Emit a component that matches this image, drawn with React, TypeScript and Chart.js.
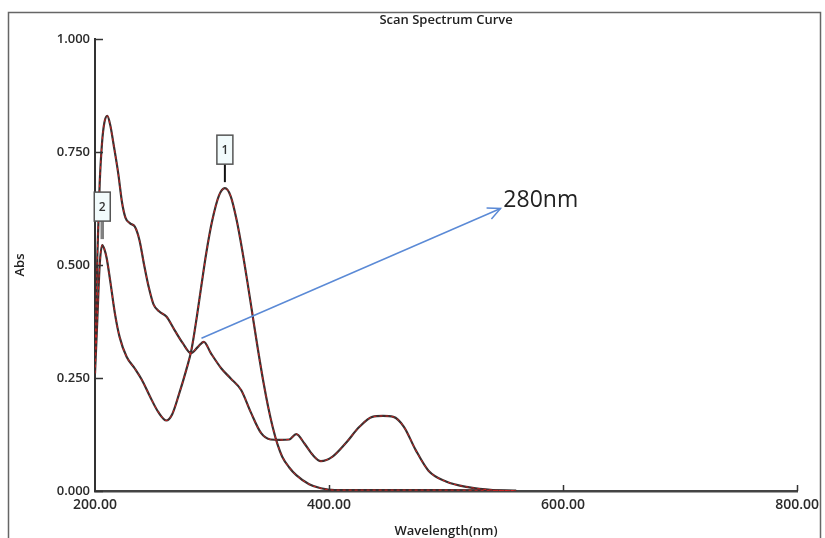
import React, { useEffect, useRef } from "react";
import { Chart, registerables } from "chart.js";

Chart.register(...registerables);

// Curve A (black / red dashed) – broad spectrum with 210 nm max and 450 nm band
const waveA = [200, 202, 204, 206, 208, 210.5, 213, 216, 220, 223, 226, 230, 234, 238, 242, 246, 250, 255, 261, 268, 275, 282, 288, 293, 299, 308, 316, 325, 333, 342, 350, 358, 366, 372, 379, 386, 393, 403, 414, 426, 437, 446, 455, 464, 474, 485, 500, 520, 540, 560];
const absA = [0.3, 0.52, 0.68, 0.77, 0.815, 0.83, 0.81, 0.765, 0.7, 0.64, 0.605, 0.592, 0.585, 0.555, 0.5, 0.45, 0.413, 0.397, 0.386, 0.356, 0.327, 0.305, 0.319, 0.33, 0.305, 0.271, 0.249, 0.223, 0.175, 0.128, 0.114, 0.113, 0.114, 0.126, 0.105, 0.08, 0.066, 0.076, 0.105, 0.142, 0.164, 0.166, 0.164, 0.142, 0.091, 0.045, 0.021, 0.008, 0.002, 0.0];

// Curve B (marker 1 / marker 2)
const waveB = [200, 202, 204, 206.2, 208, 210, 213, 217, 221, 227, 234, 240, 247, 254, 261, 266, 272, 278, 282.4, 287, 291, 295, 300, 306, 311, 316, 321, 326, 331, 334, 339, 344, 348, 352, 356, 360, 366, 372, 383, 393, 405, 450, 500, 560];
const absB = [0.26, 0.38, 0.5, 0.544, 0.535, 0.515, 0.465, 0.393, 0.341, 0.297, 0.271, 0.246, 0.209, 0.175, 0.156, 0.17, 0.216, 0.268, 0.312, 0.385, 0.456, 0.525, 0.596, 0.654, 0.67, 0.652, 0.6, 0.53, 0.45, 0.4, 0.317, 0.24, 0.186, 0.14, 0.103, 0.076, 0.052, 0.035, 0.015, 0.006, 0.002, 0.002, 0.002, 0.001];

const xTicks = [200, 400, 600, 800];
const yTicks = [0, 0.25, 0.5, 0.75, 1.0];

// peak markers
const peakLabels = ["1", "2"];
const peakWaves = [311, 206.2];
const peakAbs = [0.67, 0.544];

// arrow annotation
const arrowFrom = [291, 0.338];
const arrowTo = [546.6, 0.625];
const noteText = "280nm";
const notePos = [549, 0.645];

const FONT = "'Open Sans', 'Noto Sans', sans-serif";

const overlayPlugin = {
  id: "overlayPlugin",
  beforeDraw(chart: any) {
    const { ctx } = chart;
    ctx.save();
    ctx.fillStyle = "#ffffff";
    ctx.fillRect(0, 0, chart.width, chart.height);
    ctx.strokeStyle = "#666";
    ctx.lineWidth = 1.5;
    ctx.strokeRect(8.5, 12.5, 812, 540);
    ctx.restore();
  },
  afterDraw(chart: any) {
    const { ctx, chartArea } = chart;
    const x = chart.scales.x;
    const y = chart.scales.y;
    ctx.save();
    // inward tick marks
    ctx.strokeStyle = "#333";
    ctx.lineWidth = 1.5;
    yTicks.forEach((v) => {
      const py = Math.round(y.getPixelForValue(v)) + 0.5;
      ctx.beginPath();
      ctx.moveTo(chartArea.left, py);
      ctx.lineTo(chartArea.left + 8, py);
      ctx.stroke();
    });
    xTicks.slice(1).forEach((v) => {
      const px = Math.round(x.getPixelForValue(v)) + 0.5;
      ctx.beginPath();
      ctx.moveTo(px, chartArea.bottom);
      ctx.lineTo(px, chartArea.bottom - 6);
      ctx.stroke();
    });

    // peak markers
    peakWaves.forEach((w, i) => {
      const px = x.getPixelForValue(w);
      const py = y.getPixelForValue(peakAbs[i]);
      ctx.beginPath();
      ctx.strokeStyle = i === 0 ? "#111" : "#808080";
      ctx.lineWidth = i === 0 ? 2 : 3.5;
      ctx.moveTo(px, py - 6);
      ctx.lineTo(px, py - 24);
      ctx.stroke();
      const bw = 16, bh = 29;
      const bx = px - bw / 2, by = py - 24 - bh;
      ctx.fillStyle = "#f2fbfc";
      ctx.fillRect(bx, by, bw, bh);
      ctx.strokeStyle = "#555";
      ctx.lineWidth = 1.5;
      ctx.strokeRect(bx, by, bw, bh);
      ctx.fillStyle = "#333";
      ctx.font = `600 12px ${FONT}`;
      ctx.textAlign = "center";
      ctx.textBaseline = "middle";
      ctx.fillText(peakLabels[i], px, by + bh / 2 + 1);
    });

    // arrow
    const x0 = x.getPixelForValue(arrowFrom[0]);
    const y0 = y.getPixelForValue(arrowFrom[1]);
    const x1 = x.getPixelForValue(arrowTo[0]);
    const y1 = y.getPixelForValue(arrowTo[1]);
    ctx.strokeStyle = "#5b8ad6";
    ctx.lineWidth = 1.5;
    ctx.beginPath();
    ctx.moveTo(x0, y0);
    ctx.lineTo(x1, y1);
    ctx.stroke();
    const ang = Math.atan2(y1 - y0, x1 - x0);
    const hl = 14, ha = 0.45;
    ctx.beginPath();
    ctx.moveTo(x1 - hl * Math.cos(ang - ha), y1 - hl * Math.sin(ang - ha));
    ctx.lineTo(x1, y1);
    ctx.lineTo(x1 - hl * Math.cos(ang + ha), y1 - hl * Math.sin(ang + ha));
    ctx.stroke();

    // note text
    ctx.fillStyle = "#222";
    ctx.font = `400 23px ${FONT}`;
    ctx.textAlign = "left";
    ctx.textBaseline = "alphabetic";
    ctx.fillText(noteText, x.getPixelForValue(notePos[0]), y.getPixelForValue(notePos[1]) + 8);
    ctx.restore();
  },
};

export default function App() {
  const ref = useRef<HTMLCanvasElement | null>(null);

  useEffect(() => {
    if (!ref.current) return;
    const darkA = waveA.map((w, i) => ({ x: w, y: absA[i] }));
    const darkB = waveB.map((w, i) => ({ x: w, y: absB[i] }));
    const common = {
      pointRadius: 0,
      fill: false,
      tension: 0.4,
      cubicInterpolationMode: "monotone" as const,
    };
    const chart = new Chart(ref.current, {
      type: "line",
      data: {
        datasets: [
          { ...common, label: "A", data: darkA, borderColor: "#3a3030", borderWidth: 2.2, order: 2 },
          { ...common, label: "B", data: darkB, borderColor: "#3a3030", borderWidth: 2.2, order: 2 },
          { ...common, label: "A red", data: darkA, borderColor: "#d42020", borderWidth: 1, borderDash: [3, 3], order: 1 },
          { ...common, label: "B red", data: darkB, borderColor: "#d42020", borderWidth: 1, borderDash: [3, 3], order: 1 },
        ],
      },
      options: {
        responsive: false,
        animation: false,
        devicePixelRatio: 1,
        layout: { padding: { left: 0, right: 26, top: 0, bottom: -6 } },
        plugins: {
          legend: { display: false },
          tooltip: { enabled: false },
          title: {
            display: true,
            text: "Scan Spectrum Curve",
            fullSize: false,
            color: "#222",
            font: { family: FONT, size: 13, weight: "600" },
            padding: { top: 12, bottom: 11.4 },
          },
        },
        scales: {
          x: {
            type: "linear",
            min: 200,
            max: 800,
            afterBuildTicks: (s: any) => {
              s.ticks = xTicks.map((v) => ({ value: v }));
            },
            afterFit: (s: any) => {
              s.height = 53;
            },
            grid: { drawOnChartArea: false, drawTicks: false },
            border: { display: true, color: "#444", width: 2.5 },
            ticks: {
              padding: 6,
              color: "#2a2a2a",
              maxRotation: 0,
              font: { family: FONT, size: 14, weight: "600" },
              callback: (v: any) => Number(v).toFixed(2),
            },
            title: {
              display: true,
              text: "Wavelength(nm)",
              color: "#222",
              font: { family: FONT, size: 13, weight: "600" },
              padding: { top: 0, bottom: 5 },
            },
          },
          y: {
            type: "linear",
            min: 0,
            max: 1,
            afterBuildTicks: (s: any) => {
              s.ticks = yTicks.map((v) => ({ value: v }));
            },
            afterFit: (s: any) => {
              s.width = 95;
            },
            grid: { drawOnChartArea: false, drawTicks: false },
            border: { display: true, color: "#333", width: 2 },
            ticks: {
              padding: 5,
              color: "#2a2a2a",
              font: { family: FONT, size: 13, weight: "600" },
              callback: (v: any) => Number(v).toFixed(3),
            },
            title: {
              display: true,
              text: "Abs",
              color: "#222",
              font: { family: FONT, size: 13, weight: "600" },
              padding: { top: 12, bottom: 0 },
            },
          },
        },
      },
      plugins: [overlayPlugin],
    });
    return () => chart.destroy();
  }, []);

  return (
    <div style={{ position: "fixed", left: 0, top: 0, width: 825, height: 538, background: "#fff" }}>
      <canvas ref={ref} width={825} height={538} style={{ display: "block" }} />
    </div>
  );
}
